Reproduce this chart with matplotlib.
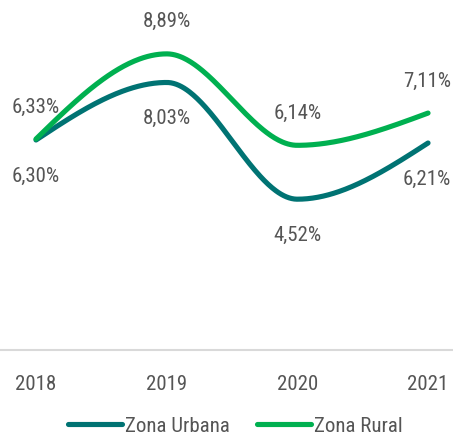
import numpy as np
import matplotlib
matplotlib.use("Agg")
import matplotlib.pyplot as plt
from matplotlib.lines import Line2D
from matplotlib import font_manager as fm

years = [2018, 2019, 2020, 2021]
urbana = [6.30, 8.03, 4.52, 6.21]
rural = [6.33, 8.89, 6.14, 7.11]
series_names = ["Zona Urbana", "Zona Rural"]

C_URB = "#007373"
C_RUR = "#00B050"
TXT = "#555555"

names = {f.name for f in fm.fontManager.ttflist}
if "Roboto Condensed" in names:
    FAM = "Roboto Condensed"; fs = 15
else:
    FAM = "Roboto"; fs = 13.3
plt.rcParams['font.family'] = [FAM, 'DejaVu Sans']


def monotone_x(x, y, n=300):
    # d3.curveMonotoneX style Hermite interpolation
    x = np.asarray(x, float); y = np.asarray(y, float)
    h = np.diff(x); d = np.diff(y) / h
    m = np.zeros_like(y)
    for k in range(1, len(x) - 1):
        s0, s1 = d[k - 1], d[k]
        p = (s0 * h[k] + s1 * h[k - 1]) / (h[k - 1] + h[k])
        m[k] = (np.sign(s0) + np.sign(s1)) * min(abs(s0), abs(s1), 0.5 * abs(p))
    m[0] = (3 * d[0] - m[1]) / 2
    m[-1] = (3 * d[-1] - m[-2]) / 2
    xs = np.linspace(x[0], x[-1], n)
    idx = np.clip(np.searchsorted(x, xs) - 1, 0, len(x) - 2)
    t = (xs - x[idx]) / h[idx]
    h00 = 2 * t**3 - 3 * t**2 + 1; h10 = t**3 - 2 * t**2 + t
    h01 = -2 * t**3 + 3 * t**2; h11 = t**3 - t**2
    ys = h00 * y[idx] + h10 * h[idx] * m[idx] + h01 * y[idx + 1] + h11 * h[idx] * m[idx + 1]
    return xs, ys


fig = plt.figure(figsize=(4.53, 4.36), dpi=100)
ax = fig.add_axes([0, 86.5 / 436, 1, 349.5 / 436])
ax.set_xlim(2017.7245, 2021.191)
ax.set_ylim(0, 10.51)

for vals, col in [(urbana, C_URB), (rural, C_RUR)]:
    xs, ys = monotone_x(years, vals)
    ax.plot(xs, ys, color=col, lw=3.7, solid_capstyle='round', zorder=3)

def fmt(v):
    return f"{v:.2f}%".replace(".", ",")

px = 72 / 100
for i, yr in enumerate(years):
    ha = 'center'
    dx = 0
    if i == len(years) - 1:
        ha = 'right'
        dx = 23
    ax.annotate(fmt(rural[i]), (yr, rural[i]), xytext=(dx * px, 32 * px),
                textcoords='offset points', ha=ha, va='center', fontsize=fs, color=TXT)
    ax.annotate(fmt(urbana[i]), (yr, urbana[i]), xytext=(dx * px, -36 * px),
                textcoords='offset points', ha=ha, va='center', fontsize=fs, color=TXT)

for s in ['top', 'right', 'left']:
    ax.spines[s].set_visible(False)
ax.spines['bottom'].set_color('#d9d9d9')
ax.spines['bottom'].set_linewidth(1.5)
ax.set_yticks([])
ax.set_xticks(years)
ax.set_xticklabels([str(y) for y in years], fontsize=fs, color=TXT)
ax.tick_params(axis='x', length=0, pad=18)

handles = [Line2D([0], [0], color=C_URB, lw=3.7, solid_capstyle='round'),
           Line2D([0], [0], color=C_RUR, lw=3.7, solid_capstyle='round')]
leg = fig.legend(handles, series_names, loc='center', bbox_to_anchor=(0.519, 10 / 436),
                 ncol=2, frameon=False, fontsize=fs, handlelength=2.6, handletextpad=0.15,
                 columnspacing=1.3, labelcolor=TXT, borderpad=0, borderaxespad=0)

fig.savefig("out.png", dpi=100)
